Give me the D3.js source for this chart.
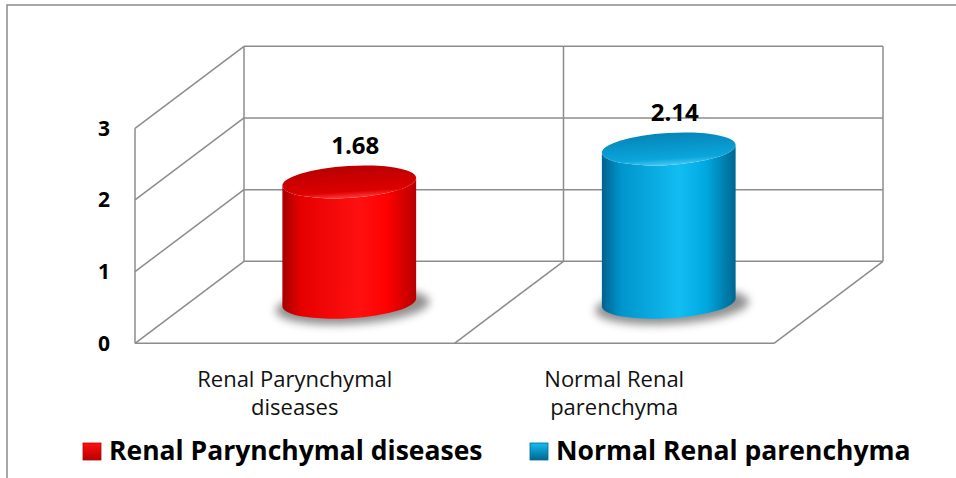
<!DOCTYPE html>
<html>
<head>
<meta charset="utf-8">
<script src="https://cdn.jsdelivr.net/npm/d3@7"></script>
<style>
  body { margin: 0; background: #fff; }
  svg { display: block; font-family: 'Open Sans', sans-serif; }
</style>
</head>
<body>
<svg id="chart" width="956" height="478"></svg>
<script>
// data
const categories = ['Renal Parynchymal diseases', 'Normal Renal parenchyma'];
const axisLabels = [['Renal Parynchymal', 'diseases'], ['Normal Renal', 'parenchyma']];
const values = [1.68, 2.14];
const yTicks = [0, 1, 2, 3];

const palette = [
  { stops: ['#a60000', '#e60000', '#ff1010', '#ff0000', '#b80000'], top: ['#b80000', '#dd0000'], rim: '#ff3a3a' },
  { stops: ['#00628e', '#0094cc', '#12bdf2', '#00a8e0', '#006690'], top: ['#0685b8', '#0aa6dc'], rim: '#45c8f2' }
];

const svg = d3.select('#chart');
const grid = '#8c8c8c';

// outer frame (runs off the right and bottom edges)
svg.append('rect')
  .attr('x', 7).attr('y', 5).attr('width', 980).attr('height', 500)
  .attr('fill', 'none').attr('stroke', '#8a8a8a').attr('stroke-width', 1.5);

// 3D frame: front plane + depth offset
const depth = { dx: 109, dy: -82 };
const x = d3.scaleBand().domain(categories).range([135, 774]);
const y = d3.scaleLinear().domain([0, 3]).range([343.3, 128.3]);
const x0 = x.range()[0], x1 = x.range()[1];

const walls = svg.append('g').attr('fill', 'none').attr('stroke', grid).attr('stroke-width', 1.5);

// back wall grid lines + side wall diagonals
yTicks.forEach(t => {
  walls.append('line')
    .attr('x1', x0 + depth.dx).attr('x2', x1 + depth.dx)
    .attr('y1', y(t) + depth.dy).attr('y2', y(t) + depth.dy);
  walls.append('line')
    .attr('x1', x0).attr('y1', y(t))
    .attr('x2', x0 + depth.dx).attr('y2', y(t) + depth.dy);
});
// back wall verticals (edges + category divider)
[x0, x0 + x.step(), x1].forEach(v => {
  walls.append('line')
    .attr('x1', v + depth.dx).attr('x2', v + depth.dx)
    .attr('y1', y(0) + depth.dy).attr('y2', y(3) + depth.dy);
});
// side wall front vertical
walls.append('line').attr('x1', x0).attr('x2', x0).attr('y1', y(0)).attr('y2', y(3));
// floor
walls.append('line').attr('x1', x0).attr('x2', x1).attr('y1', y(0)).attr('y2', y(0));
walls.append('line').attr('x1', x1).attr('y1', y(0)).attr('x2', x1 + depth.dx).attr('y2', y(0) + depth.dy);
walls.append('line').attr('x1', x0 + x.step()).attr('y1', y(0))
  .attr('x2', x0 + x.step() + depth.dx).attr('y2', y(0) + depth.dy);

// y axis labels
const yAxis = svg.append('g')
  .attr('transform', `translate(${x0},0)`)
  .call(d3.axisLeft(y).tickValues(yTicks).tickFormat(d3.format('d')).tickSize(0).tickPadding(25));
yAxis.select('.domain').remove();
yAxis.selectAll('text')
  .attr('font-family', "'Open Sans', sans-serif")
  .attr('font-size', 21).attr('font-weight', 'bold').attr('fill', '#000');

// defs
const defs = svg.append('defs');
defs.append('filter').attr('id', 'blur').attr('x', '-50%').attr('y', '-100%').attr('width', '200%').attr('height', '300%')
  .append('feGaussianBlur').attr('stdDeviation', 4);

palette.forEach((p, i) => {
  const g = defs.append('linearGradient').attr('id', 'body' + i).attr('x1', '0%').attr('x2', '100%');
  [0, 0.14, 0.58, 0.78, 1].forEach((o, k) =>
    g.append('stop').attr('offset', o).attr('stop-color', p.stops[k]));
  const t = defs.append('linearGradient').attr('id', 'top' + i).attr('x1', '0%').attr('x2', '0%').attr('y1', '0%').attr('y2', '100%');
  t.append('stop').attr('offset', 0).attr('stop-color', p.top[0]);
  t.append('stop').attr('offset', 0.8).attr('stop-color', p.top[1]);
  t.append('stop').attr('offset', 1).attr('stop-color', p.rim);
  const l = defs.append('linearGradient').attr('id', 'leg' + i).attr('x1', '0%').attr('x2', '0%').attr('y1', '0%').attr('y2', '100%');
  l.append('stop').attr('offset', 0).attr('stop-color', p.stops[2]);
  l.append('stop').attr('offset', 1).attr('stop-color', p.stops[4]);
});

// cylinders
const rx = 67, ry = 16, tilt = -3.5;
const tx = rx * Math.cos(tilt * Math.PI / 180), ty = rx * Math.sin(tilt * Math.PI / 180);

const bars = svg.append('g').selectAll('g').data(values).join('g');
bars.each(function (v, i) {
  const g = d3.select(this);
  const cx = x(categories[i]) + x.bandwidth() / 2 + depth.dx / 2;
  const by = y(0) + depth.dy / 2;
  const ty0 = y(v) + depth.dy / 2;

  g.append('ellipse')
    .attr('cx', cx + 3).attr('cy', by + 4).attr('rx', rx + 10).attr('ry', ry + 2)
    .attr('transform', `rotate(${tilt},${cx},${by})`)
    .attr('fill', '#6a6a6a').attr('opacity', 0.75).attr('filter', 'url(#blur)');

  const body = `M${cx - tx},${ty0 - ty} L${cx - tx},${by - ty}` +
    ` A${rx},${ry} ${tilt} 0 0 ${cx + tx},${by + ty}` +
    ` L${cx + tx},${ty0 + ty}` +
    ` A${rx},${ry} ${tilt} 0 1 ${cx - tx},${ty0 - ty} Z`;
  g.append('path').attr('d', body).attr('fill', `url(#body${i})`);

  g.append('ellipse')
    .attr('cx', cx).attr('cy', ty0).attr('rx', rx).attr('ry', ry)
    .attr('transform', `rotate(${tilt},${cx},${ty0})`)
    .attr('fill', `url(#top${i})`);

  g.append('text')
    .attr('x', cx + 6).attr('y', ty0 - 28)
    .attr('text-anchor', 'middle')
    .attr('font-size', 24).attr('font-weight', 'bold').attr('fill', '#000')
    .text(d3.format('.2f')(v));
});

// category labels
svg.append('g').selectAll('text').data(axisLabels).join('text')
  .attr('text-anchor', 'middle')
  .attr('font-size', 22).attr('fill', '#111')
  .each(function (lines, i) {
    const cx = x(categories[i]) + x.bandwidth() / 2;
    d3.select(this).selectAll('tspan').data(lines).join('tspan')
      .attr('x', cx).attr('y', (d, k) => 387 + k * 28).text(d => d);
  });

// legend
const legendX = [83, 530];
const legend = svg.append('g').selectAll('g').data(categories).join('g')
  .attr('transform', (d, i) => `translate(${legendX[i]},443)`);
legend.append('rect')
  .attr('width', 18).attr('height', 17)
  .attr('fill', (d, i) => `url(#leg${i})`)
  .attr('stroke', (d, i) => palette[i].stops[4]).attr('stroke-width', 0.8);
legend.append('text')
  .attr('x', 26).attr('y', 17)
  .attr('font-size', 26.5).attr('font-weight', 'bold').attr('fill', '#000')
  .text(d => d);
</script>
</body>
</html>
